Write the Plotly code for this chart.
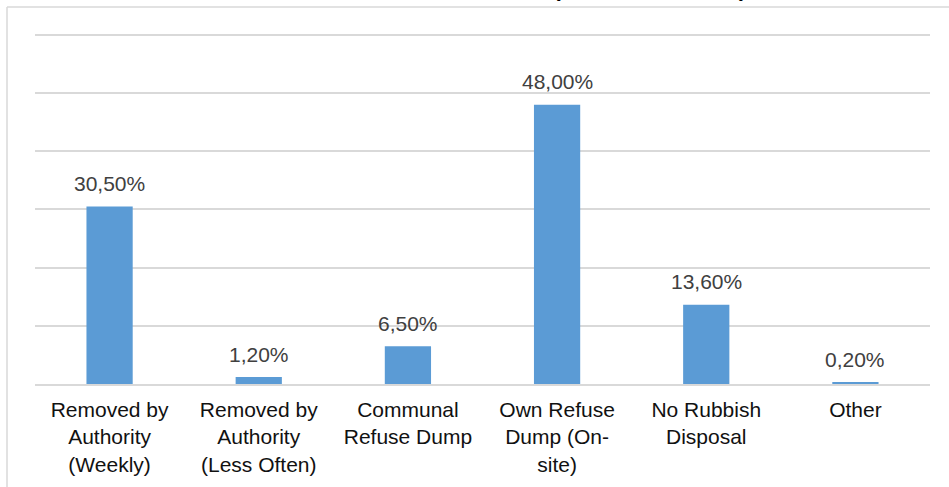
import plotly.graph_objects as go

# Refuse removal categories and the share of households in each
categories = [
    "Removed by<br>Authority<br>(Weekly)",
    "Removed by<br>Authority<br>(Less Often)",
    "Communal<br>Refuse Dump",
    "Own Refuse<br>Dump (On-<br>site)",
    "No Rubbish<br>Disposal",
    "Other",
]
shares = [30.5, 1.2, 6.5, 48.0, 13.6, 0.2]
value_labels = [f"{v:.2f}%".replace(".", ",") for v in shares]

title_text = "<b>Refuse Removal (% of Households)</b>"

BAR_COLOR = "#5B9BD5"
GRID_COLOR = "#D9D9D9"
FONT = "Liberation Sans, Arial, sans-serif"

W, H = 949, 487
Y_MAX = 61  # one unit of headroom so the 60% gridline is drawn inside the plot
PX_PER_UNIT = 349 / 60
L, R, B = 35, 19, 103
T = round(35 - PX_PER_UNIT * (Y_MAX - 60))
plot_w = W - L - R
plot_h = H - T - B


def px_x(px):
    return (px - L) / plot_w


def px_y(py):
    return (H - B - py) / plot_h


fig = go.Figure(
    go.Bar(
        x=categories,
        y=shares,
        marker=dict(color=BAR_COLOR, line=dict(width=0)),
        hoverinfo="skip",
    )
)

# value labels above each bar
for cat, val, lab in zip(categories, shares, value_labels):
    fig.add_annotation(
        x=cat, y=val, xref="x", yref="y",
        text=lab, showarrow=False,
        yanchor="middle", yshift=23,
        font=dict(family=FONT, size=21, color="#404040"),
    )

# chart title, sitting at the very top edge of the page
fig.add_annotation(
    x=px_x(748), y=px_y(3.2), xref="paper", yref="paper",
    xanchor="right", yanchor="bottom",
    text=title_text, showarrow=False,
    font=dict(family=FONT, size=22, color="#000000"),
)

# outer chart frame (left and top edges)
frame = dict(type="line", xref="paper", yref="paper",
             line=dict(color=GRID_COLOR, width=1.5), layer="below")
fig.add_shape(**frame, x0=px_x(7), x1=px_x(7), y0=px_y(7), y1=px_y(H + 5))
fig.add_shape(**frame, x0=px_x(7), x1=px_x(W + 5), y0=px_y(7), y1=px_y(7))

fig.update_layout(
    width=W, height=H,
    margin=dict(l=L, r=R, t=T, b=B, pad=0),
    paper_bgcolor="white",
    plot_bgcolor="white",
    showlegend=False,
    bargap=0.69,
    font=dict(family=FONT, size=21, color="#111111"),
)
fig.update_xaxes(
    showline=True, linecolor=GRID_COLOR, linewidth=1.5,
    ticks="", showgrid=False,
    tickfont=dict(family=FONT, size=21, color="#111111"),
    ticklabelstandoff=6,
)
fig.update_yaxes(
    range=[0, Y_MAX], dtick=10,
    showticklabels=False, ticks="",
    showgrid=True, gridcolor=GRID_COLOR, gridwidth=1.5,
    zeroline=False,
)

fig.write_html("out.html")
